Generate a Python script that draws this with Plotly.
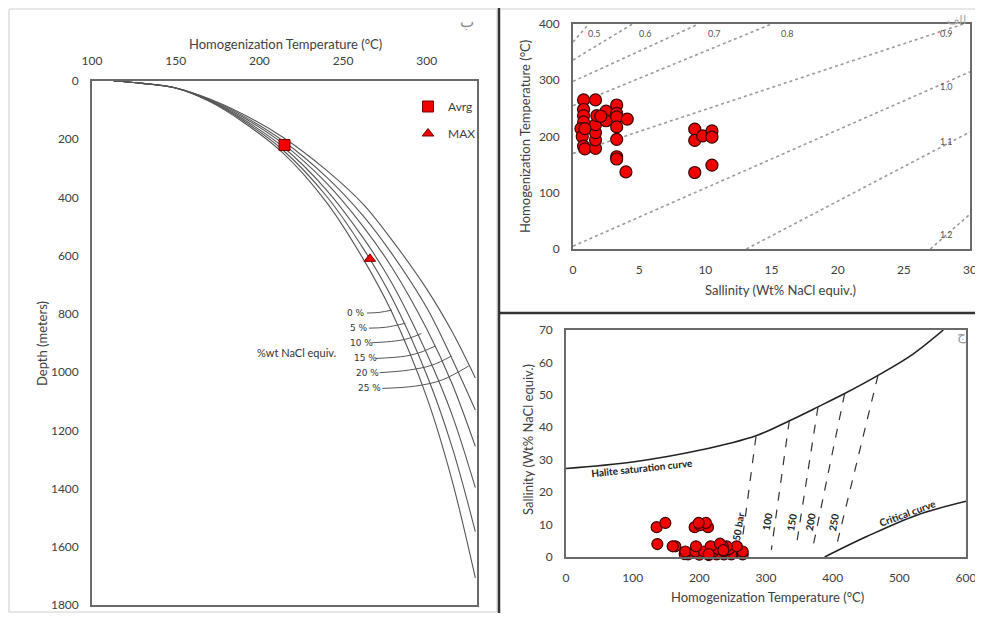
import plotly.graph_objects as go

W, H = 975, 605   # figure size; with the page's 8px body margin it fills the 983x621 window
OFF = 8

# ---------------- data: left panel (boiling point vs depth) ----------------
BP_TEMP = [113, 130, 150, 170, 190, 214, 240, 262, 279, 300, 315, 329]
BP_DEPTH_0 = [0, 8, 24, 70, 140, 247, 416, 611, 793, 1087, 1370, 1707]
BP_DEPTH_5 = [0, 8, 24, 68, 135, 237, 395, 575, 743, 1010, 1255, 1548]
BP_DEPTH_10 = [0, 8, 24, 67, 130, 226, 374, 539, 693, 936, 1145, 1397]
BP_DEPTH_15 = [0, 8, 24, 65, 124, 215, 350, 500, 639, 852, 1038, 1255]
BP_DEPTH_20 = [0, 8, 24, 63, 119, 205, 329, 463, 592, 779, 953, 1130]
BP_DEPTH_25 = [0, 8, 24, 61, 113, 193, 306, 423, 545, 715, 860, 1020]
BP_CURVES = [BP_DEPTH_0, BP_DEPTH_5, BP_DEPTH_10, BP_DEPTH_15, BP_DEPTH_20, BP_DEPTH_25]

SAL_LABELS = ["0 %", "5 %", "10 %", "15 %", "20 %", "25 %"]
SAL_LABEL_T = [257.7, 259.5, 260.7, 263.1, 264.3, 266.0]
SAL_LABEL_D = [797, 848, 900, 951, 1003, 1055]
LEADER_T = [
    [264.3, 271.4, 279.2],
    [265.5, 275.4, 287.3],
    [267.4, 281.4, 289.3, 296.8],
    [269.5, 287.3, 297.2, 305.2],
    [271.8, 289.3, 303.2, 314.7],
    [273.4, 293.2, 309.1, 325.0],
]
LEADER_D = [
    [797, 795, 787],
    [849, 846, 832],
    [899, 893, 884, 867],
    [953, 945, 930, 910],
    [1002, 993, 976, 945],
    [1056, 1048, 1027, 979],
]
AVRG_T, AVRG_D = [215], [220]
MAX_T, MAX_D = [266], [611]

# ---------------- data: fluid inclusions (salinity, Th) ----------------
SALINITY = [0.8, 1.7, 0.8, 0.8, 0.8, 0.6, 0.7, 0.8, 0.9, 1.7, 1.7, 1.7, 1.7, 1.8,
            2.5, 2.5, 3.3, 3.3, 3.3, 3.3, 3.3, 3.3, 3.3, 4.1, 4.0,
            9.2, 9.2, 9.8, 10.5, 10.5, 9.2, 10.5, 0.9, 2.1]
TH = [265, 265, 248, 237, 226, 214, 200, 183, 178, 179, 194, 207, 221, 237,
      245, 228, 256, 241, 235, 217, 195, 164, 160, 231, 137,
      213, 193, 201, 210, 199, 136, 149, 214, 236]

# ---------------- data: density isopleths (top-right) ----------------
DENS_LABELS = ["0.5", "0.6", "0.7", "0.8", "0.9", "1.0", "1.1", "1.2"]
DENS_SAL = [[0, 1.2], [0, 4.5], [0, 9.5], [0, 15.0], [0, 29.5], [0, 30], [13.1, 30], [27, 30]]
DENS_TH = [[368, 400], [336, 400], [298, 400], [255, 400], [170, 400], [5, 315], [0, 208], [0, 62]]
DENS_LABEL_SAL = [1.6, 5.5, 10.7, 16.2, 28.2, 28.2, 28.2, 28.2]
DENS_LABEL_TH = [383, 383, 383, 383, 383, 289, 191, 25]

# ---------------- data: bottom-right panel ----------------
HALITE_T = [0, 100, 200, 286, 336, 378, 418, 468, 520, 566]
HALITE_S = [27.3, 29.3, 32.9, 37.5, 42.1, 46.3, 50.4, 56.0, 62.5, 70]
CRIT_T = [388, 451, 526, 600]
CRIT_S = [0, 6.3, 12.9, 17.2]
ISOBAR_LABELS = ["50 bar", "100", "150", "200", "250"]
ISOBAR_T = [[285, 262], [335, 308], [378, 346], [418, 371], [468, 406]]
ISOBAR_S = [[37.2, 1.5], [42.1, 2.2], [46.3, 4.2], [50.4, 3.7], [56, 3.7]]
ISOBAR_LABEL_T = [258, 301, 338, 366, 401]
ISOBAR_LABEL_S = [9.3, 10.9, 10.9, 10.9, 10.9]

FONT = "Lato"
TXT = "#404040"
RED = "#f00000"


def px(x):
    return min(max((x - OFF) / W, 0), 1)


def py(y):
    return min(max(1 - (y - OFF) / H, 0), 1)


fig = go.Figure()

for depths in BP_CURVES:
    fig.add_trace(go.Scatter(x=BP_TEMP, y=depths, mode="lines",
                             line=dict(color="#555555", width=1.1, shape="spline"),
                             xaxis="x", yaxis="y", showlegend=False, hoverinfo="skip"))
for lt, ld in zip(LEADER_T, LEADER_D):
    fig.add_trace(go.Scatter(x=lt, y=ld, mode="lines",
                             line=dict(color="#555555", width=1, shape="spline"),
                             xaxis="x", yaxis="y", showlegend=False, hoverinfo="skip"))
fig.add_trace(go.Scatter(x=AVRG_T, y=AVRG_D, mode="markers", name="Avrg",
                         marker=dict(symbol="square", size=11, color=RED,
                                     line=dict(color="#7a0000", width=1)),
                         xaxis="x", yaxis="y", legendgroup="a"))
fig.add_trace(go.Scatter(x=MAX_T, y=MAX_D, mode="markers", name="MAX",
                         marker=dict(symbol="triangle-up", size=10, color=RED,
                                     line=dict(color="#7a0000", width=1)),
                         xaxis="x", yaxis="y", legendgroup="b"))

for s, t in zip(DENS_SAL, DENS_TH):
    fig.add_trace(go.Scatter(x=s, y=t, mode="lines",
                             line=dict(color="#9a9a9a", width=1.6, dash="dot"),
                             xaxis="x2", yaxis="y2", showlegend=False, hoverinfo="skip"))
fig.add_trace(go.Scatter(x=SALINITY, y=TH, mode="markers",
                         marker=dict(size=12, color=RED, line=dict(color="#3a0000", width=1.2)),
                         xaxis="x2", yaxis="y2", showlegend=False, cliponaxis=False))

fig.add_trace(go.Scatter(x=HALITE_T, y=HALITE_S, mode="lines",
                         line=dict(color="#222222", width=1.6, shape="spline"),
                         xaxis="x3", yaxis="y3", showlegend=False, hoverinfo="skip"))
fig.add_trace(go.Scatter(x=CRIT_T, y=CRIT_S, mode="lines",
                         line=dict(color="#222222", width=1.6, shape="spline"),
                         xaxis="x3", yaxis="y3", showlegend=False, hoverinfo="skip"))
for t, s in zip(ISOBAR_T, ISOBAR_S):
    fig.add_trace(go.Scatter(x=t, y=s, mode="lines",
                             line=dict(color="#333333", width=1.2, dash="dash"),
                             xaxis="x3", yaxis="y3", showlegend=False, hoverinfo="skip"))
fig.add_trace(go.Scatter(x=TH, y=SALINITY, mode="markers",
                         marker=dict(size=11, color=RED, line=dict(color="#3a0000", width=1.2)),
                         xaxis="x3", yaxis="y3", showlegend=False, cliponaxis=False))

ann = []
for lab, t, d in zip(SAL_LABELS, SAL_LABEL_T, SAL_LABEL_D):
    ann.append(dict(x=t, y=d, xref="x", yref="y", text=lab, showarrow=False,
                    font=dict(size=9, color="#333", family="DejaVu Sans")))
ann.append(dict(x=222, y=931, xref="x", yref="y", text="%wt NaCl equiv.", showarrow=False,
                font=dict(size=11, color="#333", family=FONT)))
for lab, s, t in zip(DENS_LABELS, DENS_LABEL_SAL, DENS_LABEL_TH):
    ann.append(dict(x=s, y=t, xref="x2", yref="y2", text=lab, showarrow=False,
                    font=dict(size=9, color="#555", family=FONT)))
for lab, t, s in zip(ISOBAR_LABELS, ISOBAR_LABEL_T, ISOBAR_LABEL_S):
    ann.append(dict(x=t, y=s, xref="x3", yref="y3", text="<b>" + lab + "</b>", showarrow=False,
                    textangle=-80, font=dict(size=10, color="#222", family=FONT)))
ann.append(dict(x=114, y=27.4, xref="x3", yref="y3", text="<b>Halite saturation curve</b>",
                showarrow=False, textangle=-6, font=dict(size=10, color="#222", family=FONT)))
ann.append(dict(x=512, y=13.5, xref="x3", yref="y3", text="<b>Critical curve</b>",
                showarrow=False, textangle=-20, font=dict(size=10, color="#222", family=FONT)))


def title(x, y, text, angle=0, size=13):
    return dict(x=px(x), y=py(y), xref="paper", yref="paper", text=text, showarrow=False,
                textangle=angle, xanchor="center", yanchor="middle",
                font=dict(size=size, color=TXT, family=FONT))


ann += [
    title(285, 44, "Homogenization Temperature (°C)"),
    title(42, 344, "Depth (meters)", -90),
    title(780, 290, "Sallinity (Wt% NaCl equiv.)"),
    title(525, 137, "Homogenization Temperature (°C)", -90),
    title(767, 597, "Homogenization Temperature (°C)"),
    title(528, 440, "Sallinity (Wt% NaCl equiv.)", -90),
]
ann += [
    dict(x=px(467), y=py(21), xref="paper", yref="paper", text="ب", showarrow=False,
         font=dict(size=15, color="#888", family="Noto Sans"), xanchor="center", yanchor="middle"),
    dict(x=px(956), y=py(19), xref="paper", yref="paper", text="الف", showarrow=False,
         font=dict(size=12, color="#aaa", family="Noto Sans"), xanchor="center", yanchor="middle"),
    dict(x=px(962), y=py(334), xref="paper", yref="paper", text="ج", showarrow=False,
         font=dict(size=14, color="#999", family="Noto Sans"), xanchor="center", yanchor="middle"),
]

shapes = [
    dict(type="rect", xref="paper", yref="paper", x0=0.001, x1=px(497), y0=py(612), y1=py(9),
         line=dict(color="#cfcfcf", width=1)),
    dict(type="line", xref="paper", yref="paper", x0=px(501), x1=1, y0=py(9), y1=py(9),
         line=dict(color="#cfcfcf", width=1)),
    dict(type="line", xref="paper", yref="paper", x0=px(499), x1=px(499), y0=0, y1=1,
         line=dict(color="#333333", width=2.5)),
    dict(type="line", xref="paper", yref="paper", x0=px(499), x1=1, y0=py(313), y1=py(313),
         line=dict(color="#333333", width=2.5)),
]

axcommon = dict(showgrid=False, zeroline=False, showline=True, mirror=True, automargin=False,
                linecolor="#6a6a6a", linewidth=1.6, ticks="outside", ticklen=9,
                tickcolor="rgba(0,0,0,0)", tickfont=dict(size=12, color=TXT, family=FONT))

fig.update_layout(
    width=W, height=H, margin=dict(l=0, r=0, t=0, b=0, pad=0, autoexpand=False),
    paper_bgcolor="white", plot_bgcolor="white",
    font=dict(family=FONT, color=TXT),
    xaxis=dict(domain=[px(92), px(477)], range=[100, 330], side="top",
               tickvals=[100, 150, 200, 250, 300], anchor="y", **axcommon),
    yaxis=dict(domain=[py(605), py(81)], range=[1800, 0], dtick=200, anchor="x", **axcommon),
    xaxis2=dict(domain=[px(573), px(970)], range=[0, 30], dtick=5, anchor="y2", **axcommon),
    yaxis2=dict(domain=[py(249), py(24)], range=[0, 400], dtick=100, anchor="x2", **axcommon),
    xaxis3=dict(domain=[px(566), px(966)], range=[0, 600], dtick=100, anchor="y3", **axcommon),
    yaxis3=dict(domain=[py(557), py(330)], range=[0, 70], dtick=10, anchor="x3", **axcommon),
    showlegend=True,
    legend=dict(x=px(408), y=py(92), xanchor="left", yanchor="top", bgcolor="rgba(0,0,0,0)",
                font=dict(size=12, color=TXT, family=FONT), tracegroupgap=8, itemwidth=30),
    annotations=ann, shapes=shapes,
)

fig.write_html("out.html")
